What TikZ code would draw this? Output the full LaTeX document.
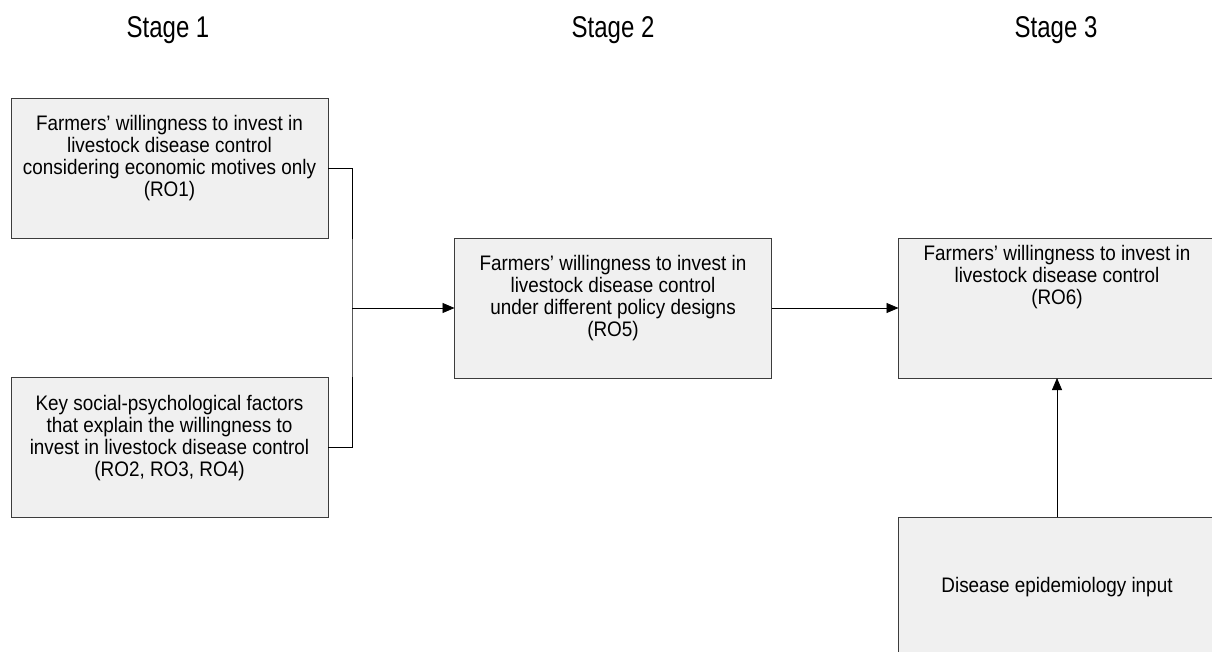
\documentclass[tikz,border=0pt]{standalone}
\usepackage{fontspec}
\setmainfont{Liberation Sans}[FakeStretch=0.9]
\newfontfamily\stagefont{Liberation Sans}[FakeStretch=0.8]
\usetikzlibrary{arrows.meta}

\definecolor{boxfill}{HTML}{F0F0F0}
\definecolor{boxline}{HTML}{3C3C3C}

\begin{document}
\begin{tikzpicture}[x=1pt, y=-1pt,
  every node/.style={outer sep=0pt},
  box/.style={draw=boxline, fill=boxfill, line width=0.8pt, minimum width=317pt, minimum height=140pt, inner sep=0pt},
  boxtext/.style={align=center, inner sep=0pt, font=\fontsize{21pt}{22pt}\selectfont},
  stage/.style={font=\stagefont\fontsize{30pt}{30pt}\selectfont},
  link/.style={line width=0.8pt, draw=black},
  arr/.style={link, -{Triangle[length=12pt,width=10pt]}}]
\useasboundingbox (0,0) rectangle (1212,652);

\node[stage] (s1) at (168,30) {Stage 1};
\node[stage] (s2) at (613,30) {Stage 2};
\node[stage] (s3) at (1056,30) {Stage 3};

% stage 1
\node[box] (ro1) at (169.5,168) {};
\node[boxtext] (ro1txt) at (169.5,158) {Farmers' willingness to invest in\\livestock disease control\\considering economic motives only\\(RO1)};
\node[box] (ro24) at (169.5,447) {};
\node[boxtext] (ro24txt) at (169.5,438) {Key social-psychological factors\\that explain the willingness to\\invest in livestock disease control\\(RO2, RO3, RO4)};

% stage 2
\node[box] (ro5) at (613,308) {};
\node[boxtext] (ro5txt) at (613,298) {Farmers' willingness to invest in\\livestock disease control\\under different policy designs\\(RO5)};

% stage 3
\node[box] (ro6) at (1057,308) {};
\node[boxtext] (ro6txt) at (1057,277) {Farmers' willingness to invest in\\livestock disease control\\(RO6)};
\node[box] (epi) at (1057,587) {};
\node[boxtext] (epitxt) at (1057,587) {Disease epidemiology input};

\coordinate (j) at (352,308);
\draw[link] (ro1.east) -| (j) |- (ro24.east);
\draw[arr] (j) -- (ro5.west);
\draw[arr] (ro5.east) -- (ro6.west);
\draw[arr] (epi.north) -- (ro6.south);
\end{tikzpicture}
\end{document}
